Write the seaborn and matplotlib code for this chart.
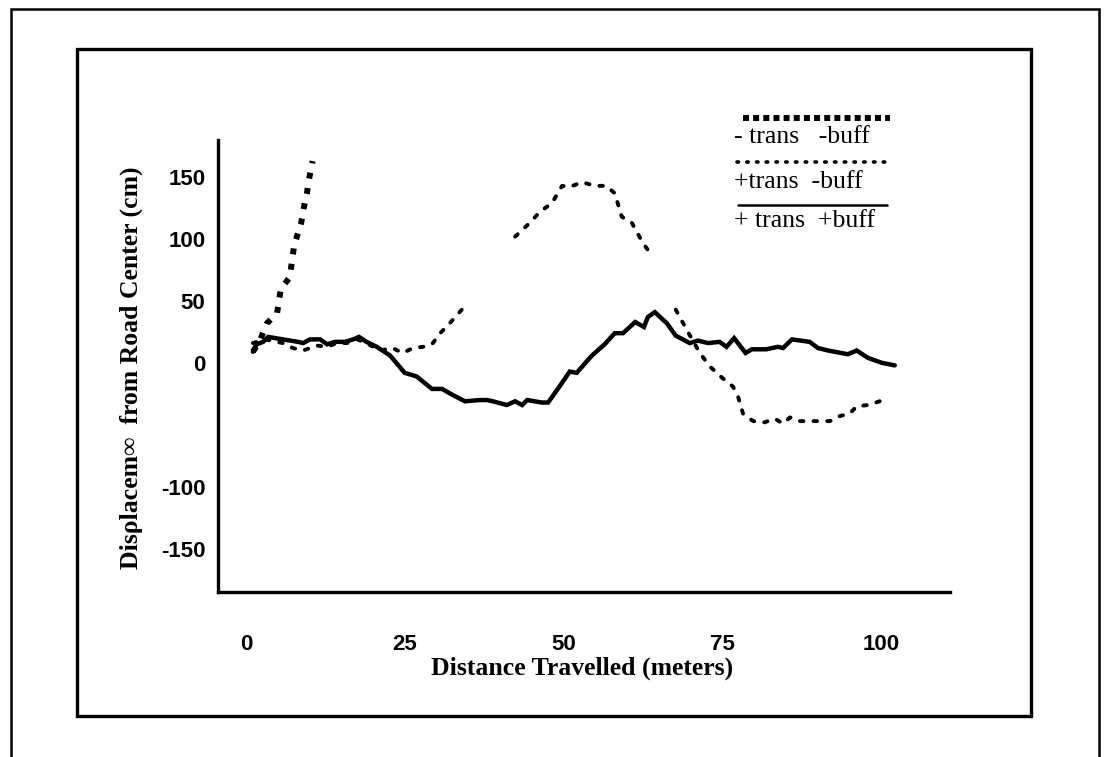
import numpy as np
import pandas as pd
import matplotlib
matplotlib.use("Agg")
import matplotlib.pyplot as plt
from matplotlib.lines import Line2D
from matplotlib.patches import Rectangle
import seaborn as sns

# ---------------- data ----------------
# "- trans -buff" (square dots)
nn_x = [1.1, 2.2, 3.3, 4.9, 5.5, 6.9, 7.6, 8.7, 9.1, 9.6, 10.0, 10.5]
nn_y = [9, 18, 32, 40, 60, 69, 95, 113, 125, 137, 150, 163]

# "+trans -buff" (dotted), three visible segments
pn_seg1_x = [1.1, 3.0, 5.8, 7.4, 9.0, 11.2, 12.8, 14.3, 15.9, 17.5, 19.0, 21.1, 23.1, 24.7, 26.3, 27.9, 29.3, 30.6, 32.1, 34.0]
pn_seg1_y = [16, 19, 16, 12, 10, 14, 13, 16, 16, 19, 16, 10, 12, 8, 12, 13, 15, 24, 32, 43]
pn_seg2_x = [42.4, 44.7, 46.3, 48.2, 49.8, 51.0, 52.9, 55.0, 56.7, 58.1, 59.2, 60.8, 62.5, 63.9]
pn_seg2_y = [102, 113, 122, 129, 143, 142, 146, 143, 143, 137, 118, 113, 97, 87]
pn_seg3_x = [67.7, 69.4, 71.5, 73.1, 75.0, 76.7, 77.5, 78.3, 79.9, 81.7, 83.3, 84.6, 85.7, 87.2, 90.4, 92.0, 93.5, 95.1, 96.2, 98.0, 99.8, 101.1]
pn_seg3_y = [43, 27, 8, -3, -12, -19, -27, -41, -47, -48, -45, -49, -44, -47, -47, -47, -43, -41, -35, -34, -31, -29]

# "+ trans +buff" (solid)
pp_x = [1.1, 1.7, 2.7, 3.5, 5.8, 8.2, 9.0, 10.1, 11.7, 12.8, 14.0, 15.6, 16.9, 17.8, 19.0, 20.6, 22.7, 25.0,
        26.9, 29.3, 30.9, 32.6, 34.5, 36.9, 38.0, 38.9, 41.1, 42.4, 43.5, 44.3, 46.6, 47.6, 49.4, 51.0, 52.1,
        54.5, 56.5, 58.1, 59.4, 61.3, 62.7, 63.3, 64.4, 66.3, 67.7, 68.8, 69.9, 71.2, 72.8, 74.6, 75.7, 76.9,
        78.7, 79.7, 82.0, 83.8, 84.6, 86.0, 88.8, 90.1, 91.7, 94.8, 96.2, 98.0, 100.2, 102.2]
pp_y = [9, 15, 17, 21, 19, 17, 16, 19, 19, 15, 17, 17, 19, 21, 17, 13, 6, -8,
        -11, -21, -21, -26, -31, -30, -30, -31, -34, -31, -34, -30, -32, -32, -19, -7, -8,
        6, 15, 24, 24, 33, 29, 37, 41, 32, 22, 19, 16, 18, 16, 17, 13, 20,
        8, 11, 11, 13, 12, 19, 17, 12, 10, 7, 10, 4, 0, -2]

x_ticks = [0, 25, 50, 75, 100]
x_ticklabels = ["0", "25", "50", "75", "100"]
y_ticks = [-150, -100, -50, 0, 50, 100, 150]
y_ticklabels = ["-150", "-100", "", "0", "50", "100", "150"]
legend_labels = ["- trans   -buff", "+trans  -buff", "+ trans  +buff"]

# ---------------- figure ----------------
sns.set_theme(style="white")
plt.rcParams["font.family"] = ["Liberation Serif", "DejaVu Serif"]
plt.rcParams["text.color"] = "black"

W, H = 1104, 757
fig = plt.figure(figsize=(W / 100, H / 100), dpi=100)
fig.patch.set_facecolor("white")

def fx(px):
    return px / W

def fy(py):
    return 1 - py / H

ax = fig.add_axes([fx(218), fy(592), fx(950) - fx(218), fy(140) - fy(592)])
ax.set_facecolor("white")

nn_df = pd.DataFrame({"x": nn_x, "y": nn_y, "seg": 0})
pn_df = pd.concat([
    pd.DataFrame({"x": pn_seg1_x, "y": pn_seg1_y, "seg": 1}),
    pd.DataFrame({"x": pn_seg2_x, "y": pn_seg2_y, "seg": 2}),
    pd.DataFrame({"x": pn_seg3_x, "y": pn_seg3_y, "seg": 3}),
], ignore_index=True)
pp_df = pd.DataFrame({"x": pp_x, "y": pp_y, "seg": 0})

sns.lineplot(data=pp_df, x="x", y="y", units="seg", estimator=None, sort=False,
             color="black", linewidth=3.2, ax=ax, solid_joinstyle="miter")
sns.lineplot(data=pn_df, x="x", y="y", units="seg", estimator=None, sort=False,
             color="black", linewidth=2.8, linestyle=(0, (0.9, 2.6)),
             dash_capstyle="round", ax=ax)
sns.lineplot(data=nn_df, x="x", y="y", units="seg", estimator=None, sort=False,
             color="black", linewidth=4.3, linestyle=(0, (1.0, 1.6)),
             dash_capstyle="butt", ax=ax)

ax.set_xlim(-4.4, 110.9)
ax.set_ylim(-185, 180)
ax.set_xticks(x_ticks)
ax.set_xticklabels(x_ticklabels)
ax.set_yticks(y_ticks)
ax.set_yticklabels(y_ticklabels)
ax.set_xlabel("")
ax.set_ylabel("")

for s in ["top", "right"]:
    ax.spines[s].set_visible(False)
for s in ["left", "bottom"]:
    ax.spines[s].set_linewidth(2.4)
    ax.spines[s].set_color("black")

ax.tick_params(axis="x", direction="in", length=5, width=2, pad=30, colors="black")
ax.tick_params(axis="y", direction="in", length=7, width=2.5, pad=9, colors="black")
for lab in ax.get_xticklabels() + ax.get_yticklabels():
    lab.set_fontfamily(["Liberation Sans", "DejaVu Sans"])
    lab.set_fontweight("bold")
    lab.set_fontsize(16)
    lab.set_color("black")

# axis titles
fig.text(fx(131), fy(368), "Disρlacem∞  from Road Center (cm)", rotation=90,
         ha="center", va="center", fontsize=18.5, fontweight="bold", color="black",
         family=["Liberation Serif", "DejaVu Serif"])
fig.text(fx(582), fy(668), "Distance Travelled (meters)", ha="center", va="center",
         fontsize=18.5, fontweight="bold", color="black",
         family=["Liberation Serif", "DejaVu Serif"])

# legend (hand-built, as in original)
fig.add_artist(Line2D([fx(743), fx(890)], [fy(118), fy(118)], transform=fig.transFigure,
                      color="black", linewidth=4.3, linestyle=(0, (1.0, 0.7)), dash_capstyle="butt"))
fig.add_artist(Line2D([fx(737), fx(890)], [fy(162), fy(162)], transform=fig.transFigure,
                      color="black", linewidth=2.6, linestyle=(0, (0.4, 2.3)), dash_capstyle="round"))
fig.add_artist(Line2D([fx(738), fx(887)], [fy(205), fy(205)], transform=fig.transFigure,
                      color="black", linewidth=1.8))
for lbl, py in zip(legend_labels, [137, 182, 221]):
    fig.text(fx(734), fy(py), lbl, ha="left", va="center", fontsize=18.5, color="black",
             family=["Liberation Serif", "DejaVu Serif"])

# frames
fig.add_artist(Rectangle((fx(11), fy(770)), fx(1099) - fx(11), fy(9) - fy(770),
                         transform=fig.transFigure, fill=False, edgecolor="black",
                         linewidth=1.8, clip_on=False))
fig.add_artist(Rectangle((fx(77), fy(716)), fx(1031) - fx(77), fy(49) - fy(716),
                         transform=fig.transFigure, fill=False, edgecolor="black",
                         linewidth=2.4))

fig.savefig("out.png", dpi=100, facecolor="white")
